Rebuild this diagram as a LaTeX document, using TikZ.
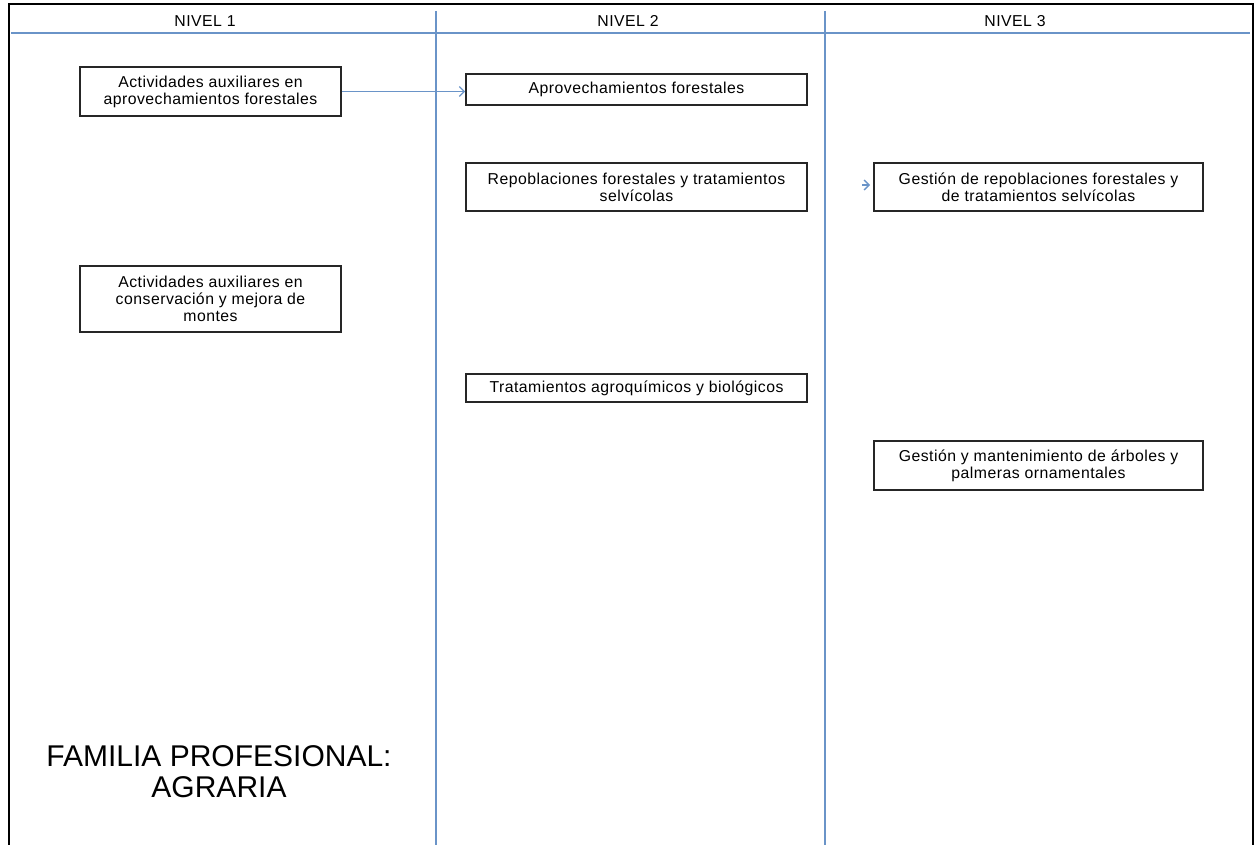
\documentclass[tikz,border=0pt]{standalone}
\usepackage{fontspec}
\setmainfont{Liberation Sans}
\newfontfamily\boxfont{Liberation Sans}[LetterSpace=3]
\usetikzlibrary{arrows.meta}

\definecolor{lanecol}{HTML}{6A94C8}
\definecolor{boxcol}{HTML}{262626}

\tikzset{
    lane/.style={draw=lanecol, line width=1.3pt},
    frame/.style={draw=black, line width=2pt},
    box/.style={draw=boxcol, line width=1.6pt, fill=white, align=center,
        font=\boxfont\fontsize{15.8}{17}\selectfont, inner sep=2pt},
    head/.style={font=\boxfont\fontsize{15.8}{17}\selectfont},
    link/.style={draw=lanecol, line width=1.3pt,
        -{Straight Barb[length=5pt,width=10pt]}}
}

\begin{document}
\begin{tikzpicture}[x=1pt,y=-1pt]
    \useasboundingbox (0,0) rectangle (1257,845);
    % frame and lanes
    \draw[frame] (9,845) -- (9,4) -- (1253,4) -- (1253,845);
    \draw[lane] (11,33) -- (1250,33);
    \draw[lane] (436,11) -- (436,845);
    \draw[lane] (825,11) -- (825,845);
    \node[head] (n1) at (205,21) {NIVEL 1};
    \node[head] (n2) at (628,21) {NIVEL 2};
    \node[head] (n3) at (1015,21) {NIVEL 3};
    % nivel 1
    \node[box, minimum width=261, minimum height=49] (aux1) at (210.5,91.5)
        {Actividades auxiliares en\\aprovechamientos forestales};
    \node[box, minimum width=261, minimum height=66] (aux2) at (210.5,299)
        {Actividades auxiliares en\\conservación y mejora de\\montes};
    % nivel 2
    \node[box, minimum width=341, minimum height=31] (aprov) at (636.5,89.5)
        {Aprovechamientos forestales};
    \node[box, minimum width=341, minimum height=48] (repob) at (636.5,187)
        {Repoblaciones forestales y tratamientos\\selvícolas};
    \node[box, minimum width=341, minimum height=28] (trat) at (636.5,388)
        {Tratamientos agroquímicos y biológicos};
    % nivel 3
    \node[box, minimum width=329, minimum height=48] (gest1) at (1038.5,187)
        {Gestión de repoblaciones forestales y\\de tratamientos selvícolas};
    \node[box, minimum width=329, minimum height=49] (gest2) at (1038.5,465.5)
        {Gestión y mantenimiento de árboles y\\palmeras ornamentales};
    % title
    \node[font=\fontsize{30}{31}\selectfont, align=center] (fam) at (219,772)
        {FAMILIA PROFESIONAL:\\AGRARIA};
    % links
    \draw[link] (aux1.east) -- (aux1.east -| aprov.west);
    \coordinate (tipA) at (862,185);
    \coordinate (tipB) at (870,185);
    \draw[link] (tipA) -- (tipB);
\end{tikzpicture}
\end{document}
